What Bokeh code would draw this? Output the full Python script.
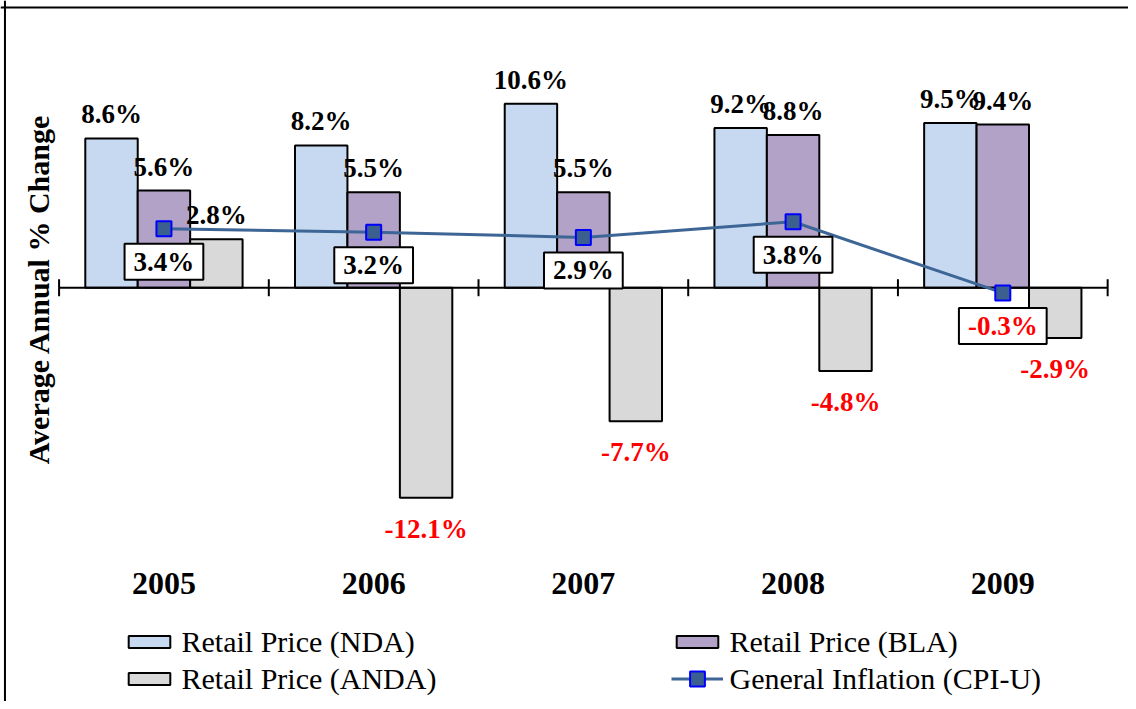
import math
from bokeh.plotting import figure
from bokeh.models import Range1d, Legend, LegendItem, Label, Span
from bokeh.core.properties import value
from bokeh.embed import file_html
from bokeh.resources import INLINE

# ---------------- data ----------------
years = ["2005", "2006", "2007", "2008", "2009"]
nda = [8.6, 8.2, 10.6, 9.2, 9.5]
bla = [5.6, 5.5, 5.5, 8.8, 9.4]
anda = [2.8, -12.1, -7.7, -4.8, -2.9]
cpi = [3.4, 3.2, 2.9, 3.8, -0.3]

bar_names = ["Retail Price (NDA)", "Retail Price (BLA)", "Retail Price (ANDA)"]
line_name = "General Inflation (CPI-U)"
y_title = "Average Annual % Change"

# ---------------- style ----------------
bar_colors = ["#C6D9F1", "#B3A2C7", "#D9D9D9"]
line_color = "#3D6696"
marker_fill = "#3B5F8F"
marker_line = "#0000FF"
serif = value("Liberation Serif")
legend_font = "'Liberation Serif', 'Times New Roman', 'DejaVu Serif', serif"

# ---------------- layout ----------------
W, H = 1128, 701
sx, sy = W / 1136, H / 709
left_px = 59 * sx
cat_px = (1115 - 59) / 5 * sx
zero_px = 290.5 * sy
pct_px = 17.55 * sy
cat_label_px = 590 * sy

x_range = Range1d(-left_px / cat_px, (W - left_px) / cat_px)
y_range = Range1d(-(H - zero_px) / pct_px, zero_px / pct_px)

p = figure(width=W, height=H, x_range=x_range, y_range=y_range,
           output_backend="svg", toolbar_location=None,
           x_axis_location=None, y_axis_location=None,
           min_border=0, outline_line_color=None,
           background_fill_color="white", border_fill_color="white")
p.grid.visible = False

n = len(years)
cx = [i + 0.5 for i in range(n)]
bw = 0.25
offsets = [-bw, 0.0, bw]

# outer frame (top and left edges visible)
p.add_layout(Span(location=y_range.end - 7 * sy / pct_px, dimension="width",
                  line_color="black", line_width=2))
p.add_layout(Span(location=x_range.start + 4.5 * sx / cat_px, dimension="height",
                  line_color="black", line_width=2))

# bars
bar_renderers = []
for vals, off, col in zip([nda, bla, anda], offsets, bar_colors):
    r = p.vbar(x=[c + off for c in cx], top=vals, bottom=0, width=bw,
               fill_color=col, line_color="black", line_width=2)
    bar_renderers.append(r)

# zero axis line with cross ticks at category boundaries
p.line(x=[0, n], y=[0, 0], line_color="black", line_width=2)
p.scatter(x=list(range(n + 1)), y=[0] * (n + 1), marker="dash",
          angle=math.pi / 2, size=17, line_color="black", line_width=2)

# CPI line
lr = p.line(x=cx, y=cpi, line_color=line_color, line_width=3)
sr = p.scatter(x=cx, y=cpi, marker="square", size=15, fill_color=marker_fill,
               line_color=marker_line, line_width=2)

# bar value labels
for vals, off in zip([nda, bla, anda], offsets):
    xs = [c + off for c in cx]
    txt = [f"{v:.1f}%" for v in vals]
    cols = ["black" if v >= 0 else "#FF0000" for v in vals]
    yoff = [-24 if v >= 0 else 31 for v in vals]
    p.text(x=xs, y=vals, text=txt, text_color=cols, y_offset=yoff,
           text_align="center", text_baseline="middle",
           text_font=serif, text_font_style="bold", text_font_size="27px")

# CPI labels in boxes
p.text(x=cx, y=cpi, text=[f"{v:.1f}%" for v in cpi],
       text_color=["black" if v >= 0 else "#FF0000" for v in cpi],
       y_offset=33, text_align="center", text_baseline="middle",
       text_font=serif, text_font_style="bold", text_font_size="27px",
       background_fill_color="white", border_line_color="black",
       border_line_width=2, padding=(9, 3))

# category labels
y_cat = (zero_px - cat_label_px) / pct_px
p.text(x=cx, y=[y_cat] * n, text=years, text_align="center",
       text_baseline="middle", text_font=serif, text_font_style="bold",
       text_font_size="32px", text_color="black")

# y title
p.add_layout(Label(x=37.5, y=H - 292 * sy, x_units="screen", y_units="screen",
                   text=y_title, angle=math.pi / 2, text_align="center",
                   text_baseline="middle", text_font="Liberation Serif",
                   text_font_style="bold", text_font_size="30px",
                   text_color="black"))

# legends: glyph swatches from Bokeh Legend, texts as serif labels
def make_legend(renderer_groups, x, y, gh=15):
    items = [LegendItem(label=" ", renderers=rs) for rs in renderer_groups]
    lg = Legend(items=items, location=(x, y), orientation="vertical",
                glyph_width=52, glyph_height=gh, label_standoff=0,
                label_text_font_size="30px", label_height=33, label_width=0,
                spacing=4, padding=0, margin=0,
                border_line_color=None, background_fill_alpha=0)
    p.add_layout(lg)

def legend_text(text, x, y_from_top):
    p.add_layout(Label(x=x, y=H - y_from_top, x_units="screen", y_units="screen",
                       text=text, text_align="left", text_baseline="middle",
                       text_font=legend_font, text_font_style="normal",
                       text_font_size="30px", text_color="black"))

row1, row2 = 641, 678
make_legend([[bar_renderers[0]], [bar_renderers[2]]], 123, H - row2 - 16.5)
make_legend([[bar_renderers[1]]], 671, H - row1 - 16.5)
make_legend([[lr, sr]], 671, H - row2 - 18.5, gh=37)
legend_text(bar_names[0], 181, row1)
legend_text(bar_names[2], 181, row2)
legend_text(bar_names[1], 729, row1)
legend_text(line_name, 729, row2)

open("out.html", "w").write(file_html(p, INLINE))
